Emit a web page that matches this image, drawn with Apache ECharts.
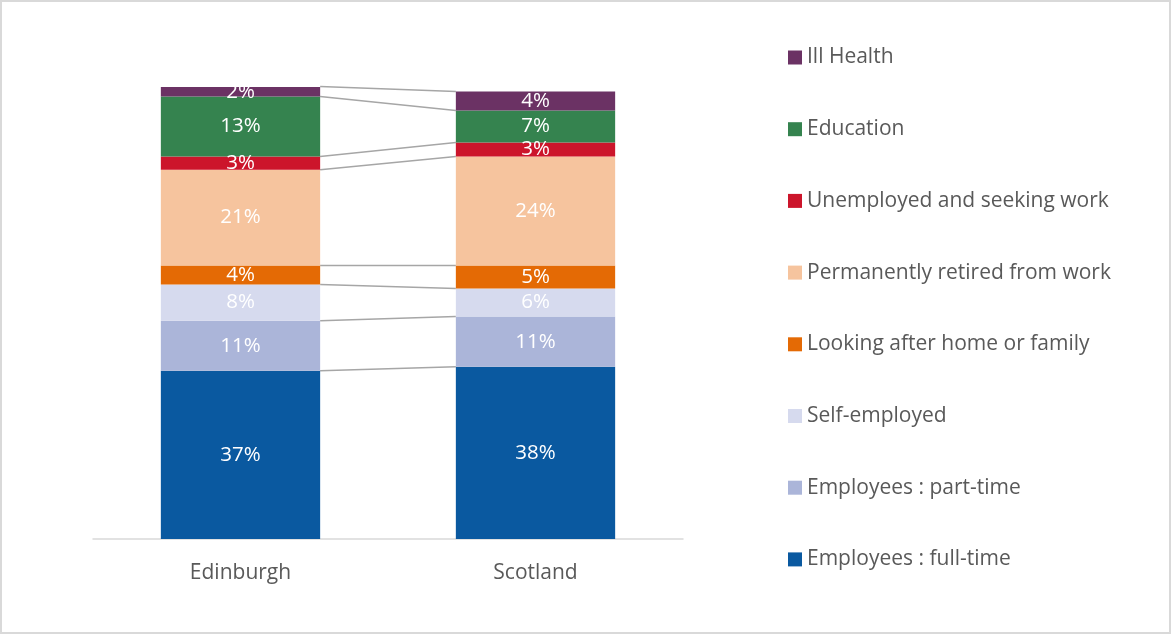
<!DOCTYPE html>
<html>
<head>
<meta charset="utf-8">
<script src="https://cdn.jsdelivr.net/npm/echarts@6/dist/echarts.min.js"></script>
<style>
html,body{margin:0;padding:0;background:#fff;}
#wrap{position:relative;width:1171px;height:634px;}
#chart{position:absolute;left:0;top:0;width:1171px;height:634px;}
#frame{position:absolute;left:0;top:0;width:1171px;height:634px;box-sizing:border-box;border:2px solid #d9d9d9;pointer-events:none;}
</style>
</head>
<body>
<div id="wrap"><div id="chart"></div><div id="frame"></div></div>
<script>
// Categories
var categories = ['Edinburgh', 'Scotland'];
// Series names (bottom of stack first)
var seriesNames = [
  'Employees : full-time',
  'Employees : part-time',
  'Self-employed',
  'Looking after home or family',
  'Permanently retired from work',
  'Unemployed and seeking work',
  'Education',
  'Ill Health'
];
// Values (%) per series: [Edinburgh, Scotland]
var fullTime    = [37.2, 38.1];
var partTime    = [11.1, 11.1];
var selfEmp     = [8.0, 6.2];
var homeFamily  = [4.2, 5.1];
var retired     = [21.2, 24.1];
var unemployed  = [2.9, 3.1];
var education   = [13.3, 7.1];
var illHealth   = [2.2, 4.2];

var seriesValues = [fullTime, partTime, selfEmp, homeFamily, retired, unemployed, education, illHealth];
var colors = ['#0A59A0', '#ABB5D9', '#D6DAEE', '#E46A05', '#F6C49E', '#CC152B', '#35834F', '#6B3264'];

var FONT = '"Open Sans", "Liberation Sans", Arial, sans-serif';
var BAR_FRAC = 0.54;

// cumulative tops for connector lines
var connectors = [];
var cumE = 0, cumS = 0;
seriesValues.forEach(function (vals) {
  cumE += vals[0]; cumS += vals[1];
  connectors.push([0, cumE, cumS]);
});

var series = seriesValues.map(function (vals, i) {
  return {
    name: seriesNames[i],
    type: 'bar',
    stack: 'total',
    barWidth: (BAR_FRAC * 100) + '%',
    data: vals,
    itemStyle: { color: colors[i] },
    label: {
      show: true,
      position: 'inside',
      color: '#ffffff',
      fontFamily: FONT,
      fontSize: 20.5,
      formatter: function (p) { return Math.round(p.value) + '%'; }
    },
    z: 3
  };
});

series.push({
  type: 'custom',
  name: 'connectors',
  data: connectors,
  encode: { x: 0, y: 1 },
  silent: true,
  z: 2,
  renderItem: function (params, api) {
    var band = api.size([1, 0])[0];
    var half = band * BAR_FRAC / 2;
    var p1 = api.coord([0, api.value(1)]);
    var p2 = api.coord([1, api.value(2)]);
    return {
      type: 'line',
      shape: { x1: p1[0] + half, y1: p1[1], x2: p2[0] - half, y2: p2[1] },
      style: { stroke: '#a6a6a6', lineWidth: 1.5 }
    };
  }
});

var chart = echarts.init(document.getElementById('chart'), null, { renderer: 'canvas' });
chart.setOption({
  animation: false,
  backgroundColor: '#ffffff',
  grid: { left: 93, right: 1171 - 683, top: 87, bottom: 95, containLabel: false },
  xAxis: {
    type: 'category',
    data: categories,
    axisLine: { show: true, lineStyle: { color: '#d9d9d9', width: 1.5 } },
    axisTick: { show: false },
    axisLabel: { color: '#595959', fontFamily: FONT, fontSize: 21, margin: 24 }
  },
  yAxis: {
    type: 'value',
    min: 0,
    max: 100,
    show: false,
    splitLine: { show: false }
  },
  legend: {
    orient: 'vertical',
    left: 783,
    top: 42,
    itemWidth: 14,
    itemHeight: 14,
    itemGap: 50.7,
    icon: 'rect',
    data: seriesNames.slice().reverse(),
    textStyle: { color: '#595959', fontFamily: FONT, fontSize: 21, lineHeight: 20 }
  },
  series: series
});
</script>
</body>
</html>
